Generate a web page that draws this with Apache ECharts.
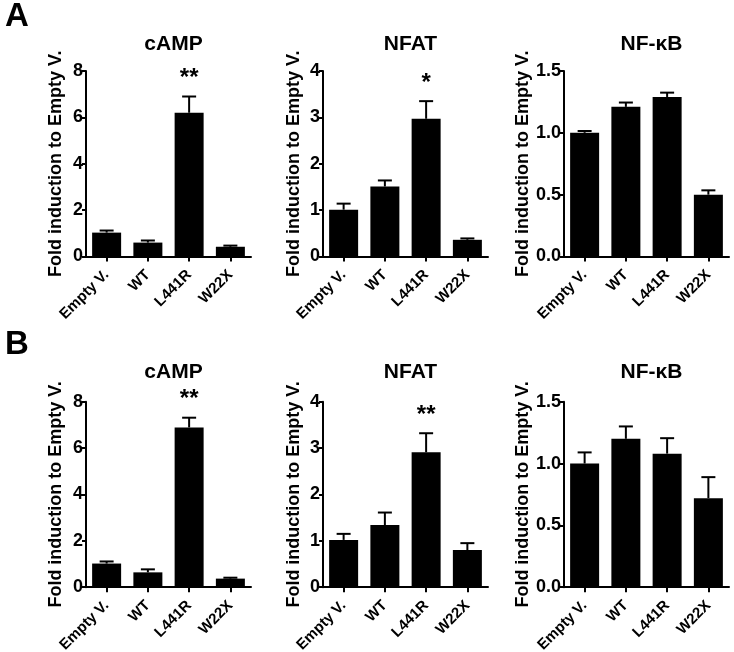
<!DOCTYPE html>
<html>
<head>
<meta charset="utf-8">
<script src="https://cdn.jsdelivr.net/npm/echarts@6/dist/echarts.min.js"></script>
<style>
html,body{margin:0;padding:0;background:#fff;}
#c{width:734px;height:652px;}
</style>
</head>
<body>
<div id="c"></div>
<script>
// ---- data ----
var categories = ['Empty V.', 'WT', 'L441R', 'W22X'];
var panelTitles = ['cAMP', 'NFAT', 'NF-\u03baB'];
var rowLetters = ['A', 'B'];

var A_cAMP = [1.03, 0.60, 6.20, 0.42];
var A_cAMP_sem = [0.09, 0.09, 0.70, 0.05];
var A_NFAT = [1.01, 1.51, 2.97, 0.36];
var A_NFAT_sem = [0.13, 0.13, 0.38, 0.03];
var A_NFKB = [1.00, 1.21, 1.29, 0.50];
var A_NFKB_sem = [0.015, 0.035, 0.035, 0.035];

var B_cAMP = [1.02, 0.64, 6.89, 0.37];
var B_cAMP_sem = [0.09, 0.13, 0.42, 0.04];
var B_NFAT = [1.02, 1.34, 2.91, 0.80];
var B_NFAT_sem = [0.13, 0.27, 0.41, 0.15];
var B_NFKB = [1.00, 1.20, 1.08, 0.72];
var B_NFKB_sem = [0.09, 0.10, 0.125, 0.17];

var A_sig = [['', '', '**', ''], ['', '', '*', ''], ['', '', '', '']];
var B_sig = [['', '', '**', ''], ['', '', '**', ''], ['', '', '', '']];

var yMax = [8, 4, 1.5];
var yInterval = [2, 1, 0.5];
var yDecimals = [0, 0, 1];

// ---- layout ----
var FONT = 'Liberation Sans, Arial, sans-serif';
var rowTop = [71, 401.7];
var titleTop = [29, 357];
var letterTop = [-5, 323];
var rowHeight = 185.5;
var colLeft = [86, 323, 564];
var colWidth = 165;
var nameGaps = [21, 20, 29];

var rows = [
  {means: [A_cAMP, A_NFAT, A_NFKB], sems: [A_cAMP_sem, A_NFAT_sem, A_NFKB_sem], sig: A_sig},
  {means: [B_cAMP, B_NFAT, B_NFKB], sems: [B_cAMP_sem, B_NFAT_sem, B_NFKB_sem], sig: B_sig}
];

var grids = [], xAxes = [], yAxes = [], series = [], titles = [];

rows.forEach(function (row, r) {
  titles.push({
    text: rowLetters[r], left: 0, top: letterTop[r],
    textStyle: {fontFamily: FONT, fontWeight: 'bold', fontSize: 33, color: '#000'}
  });
  for (var c = 0; c < 3; c++) {
    var idx = grids.length;
    grids.push({left: colLeft[c], top: rowTop[r], width: colWidth, height: rowHeight,
      containLabel: false, outerBoundsMode: 'none'});
    titles.push({
      text: panelTitles[c], left: colLeft[c] + colWidth / 2, top: titleTop[r], textAlign: 'center',
      textStyle: {fontFamily: FONT, fontWeight: 'bold', fontSize: 21, color: '#000'}
    });
    xAxes.push({
      type: 'category', gridIndex: idx, data: categories,
      axisLine: {lineStyle: {color: '#000', width: 2}},
      axisTick: {show: true, alignWithLabel: true, length: 5, lineStyle: {color: '#000', width: 2}},
      axisLabel: {rotate: 45, fontFamily: FONT, fontWeight: 'bold', fontSize: 15, color: '#000', margin: 16, interval: 0}
    });
    (function (dec) {
      yAxes.push({
        type: 'value', gridIndex: idx, min: 0, max: yMax[c], interval: yInterval[c],
        name: 'Fold induction to Empty V.', nameLocation: 'middle', nameGap: nameGaps[c], nameRotate: 90,
        nameTextStyle: {fontFamily: FONT, fontWeight: 'bold', fontSize: 18, color: '#000'},
        axisLine: {show: true, lineStyle: {color: '#000', width: 2}},
        axisTick: {show: true, length: 4, lineStyle: {color: '#000', width: 2}},
        splitLine: {show: false},
        axisLabel: {fontFamily: FONT, fontWeight: 'bold', fontSize: 18, color: '#000', margin: 3,
          formatter: function (v) { return v.toFixed(dec); }}
      });
    })(yDecimals[c]);

    var means = row.means[c], sems = row.sems[c], sig = row.sig[c];
    series.push({
      type: 'bar', xAxisIndex: idx, yAxisIndex: idx, data: means, barWidth: 29,
      itemStyle: {color: '#000'}, silent: true, animation: false
    });
    var errData = means.map(function (m, i) { return [i, m, m + sems[i], sig[i]]; });
    series.push({
      type: 'custom', xAxisIndex: idx, yAxisIndex: idx, data: errData, animation: false, silent: true,
      renderItem: function (params, api) {
        var x = api.value(0);
        var p0 = api.coord([x, api.value(1)]);
        var p1 = api.coord([x, api.value(2)]);
        var children = [
          {type: 'line', shape: {x1: p0[0], y1: p0[1], x2: p1[0], y2: p1[1]}, style: {stroke: '#000', lineWidth: 2}},
          {type: 'line', shape: {x1: p1[0] - 7, y1: p1[1], x2: p1[0] + 7, y2: p1[1]}, style: {stroke: '#000', lineWidth: 2}}
        ];
        var s = api.value(3);
        if (s) {
          children.push({type: 'text', x: p1[0], y: p1[1] - 18,
            style: {text: s, fill: '#000', font: 'bold 24px ' + FONT, textAlign: 'center', textVerticalAlign: 'middle'}});
        }
        return {type: 'group', children: children};
      },
      dimensions: ['x', 'mean', 'top', {name: 'sig', type: 'ordinal'}]
    });
  }
});

var chart = echarts.init(document.getElementById('c'), null, {renderer: 'canvas'});
chart.setOption({
  backgroundColor: '#fff',
  animation: false,
  title: titles,
  grid: grids,
  xAxis: xAxes,
  yAxis: yAxes,
  series: series
});
</script>
</body>
</html>
